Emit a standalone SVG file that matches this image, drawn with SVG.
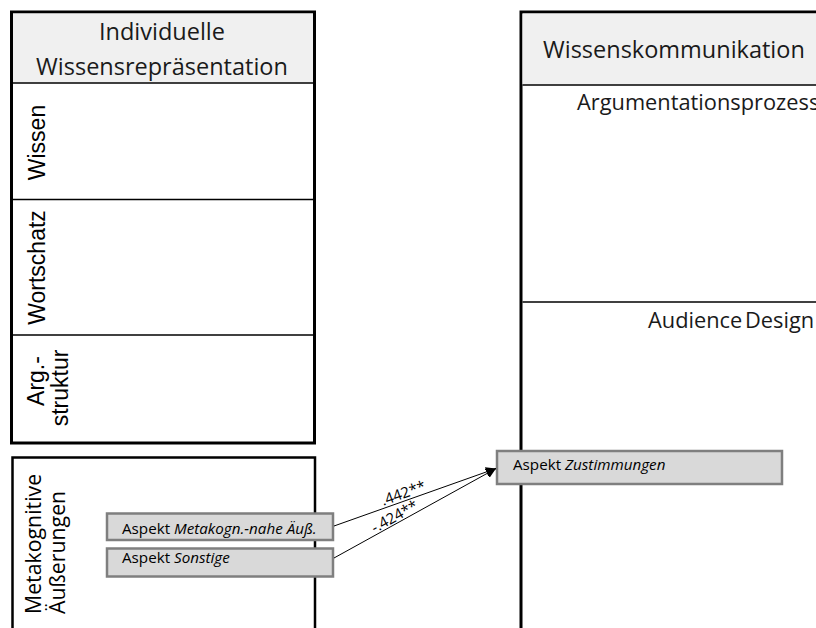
<svg xmlns="http://www.w3.org/2000/svg" width="816" height="628" viewBox="0 0 816 628">
<defs>
<style>
.panel{fill:#ffffff;stroke:#000000;stroke-width:3}
.hdr{fill:#f0f0f0}
.sep{stroke:#000000;stroke-width:1.5}
.ttl{font-family:"Open Sans","Liberation Sans",sans-serif;font-size:23.5px;fill:#1a1a1a}
.sub{font-family:"Open Sans","Liberation Sans",sans-serif;font-size:21.8px;fill:#1a1a1a}
.vl{font-family:"Liberation Sans",Arial,sans-serif;font-size:23px;fill:#000000}
.vl2{font-family:"Open Sans","Liberation Sans",sans-serif;font-size:21.3px;fill:#000000}
.box{fill:#d9d9d9;stroke:#7f7f7f;stroke-width:2.5}
.bt{font-family:"Open Sans","Liberation Sans",sans-serif;font-size:15.2px;fill:#000000}
.conn{stroke:#000000;stroke-width:1;fill:none}
.lbl{font-family:"Open Sans","Liberation Sans",sans-serif;font-size:15px;fill:#000000}
</style>
<marker id="arr" viewBox="0 0 10 10" refX="10" refY="5" markerWidth="10" markerHeight="10" markerUnits="userSpaceOnUse" orient="auto">
<path d="M0,0 L10,5 L0,10 z" fill="#000000"/>
</marker>
</defs>
<rect width="816" height="628" fill="#ffffff"/>

<g id="panel-individuell">
<rect class="panel" x="11.5" y="12" width="303" height="431"/>
<rect class="hdr" x="13" y="13.5" width="300" height="69"/>
<line class="sep" x1="13" y1="83" x2="313" y2="83"/>
<line class="sep" x1="13" y1="199.5" x2="313" y2="199.5"/>
<line class="sep" x1="13" y1="335" x2="313" y2="335"/>
<text class="ttl" x="162" y="40" text-anchor="middle">Individuelle</text>
<text class="ttl" x="162" y="75" text-anchor="middle">Wissensrepräsentation</text>
</g>

<g id="row-wissen">
<text class="vl" transform="translate(45,142.5) rotate(-90)" text-anchor="middle">Wissen</text>
</g>
<g id="row-wortschatz">
<text class="vl" transform="translate(45,267.5) rotate(-90)" text-anchor="middle">Wortschatz</text>
</g>
<g id="row-argstruktur">
<text class="vl" transform="translate(44,381) rotate(-90)" text-anchor="middle">Arg.-</text>
<text class="vl" transform="translate(68,388) rotate(-90)" text-anchor="middle">struktur</text>
</g>

<g id="panel-meta">
<rect x="12.5" y="457.5" width="302.5" height="200" fill="#ffffff" stroke="#000000" stroke-width="2.5"/>
<text class="vl2" transform="translate(41,614) rotate(-90)">Metakognitive</text>
<text class="vl2" transform="translate(65,614) rotate(-90)">Äußerungen</text>
</g>

<g id="panel-kommunikation">
<rect class="panel" x="521" y="12" width="330" height="640"/>
<rect class="hdr" x="522.5" y="13.5" width="300" height="71"/>
<line class="sep" x1="522.5" y1="85" x2="816" y2="85"/>
<line class="sep" x1="522.5" y1="302" x2="816" y2="302"/>
<text class="ttl" x="543" y="58">Wissenskommunikation</text>
<text class="sub" x="577" y="110">Argumentationsprozess</text>
<text class="sub" x="648" y="328" word-spacing="-3">Audience Design</text>
</g>

<g id="node-metakogn">
<rect class="box" x="107" y="513.5" width="226" height="26.5"/>
<text class="bt" x="122" y="534">Aspekt <tspan font-style="italic">Metakogn.-nahe Äuß.</tspan></text>
</g>
<g id="node-sonstige">
<rect class="box" x="107" y="548.5" width="226" height="28"/>
<text class="bt" x="122" y="563">Aspekt <tspan font-style="italic">Sonstige</tspan></text>
</g>
<g id="node-zustimmungen">
<rect class="box" x="497" y="451" width="285" height="33"/>
<text class="bt" x="513" y="469.5">Aspekt <tspan font-style="italic">Zustimmungen</tspan></text>
</g>

<g id="connectors">
<line class="conn" x1="334" y1="526" x2="496" y2="468.5" marker-end="url(#arr)"/>
<line class="conn" x1="334" y1="558" x2="496" y2="468.5" marker-end="url(#arr)"/>
<text class="lbl" transform="translate(405,498) rotate(-19.5)" text-anchor="middle">.442**</text>
<text class="lbl" transform="translate(397,521) rotate(-29)" text-anchor="middle">-.424**</text>
</g>
</svg>
